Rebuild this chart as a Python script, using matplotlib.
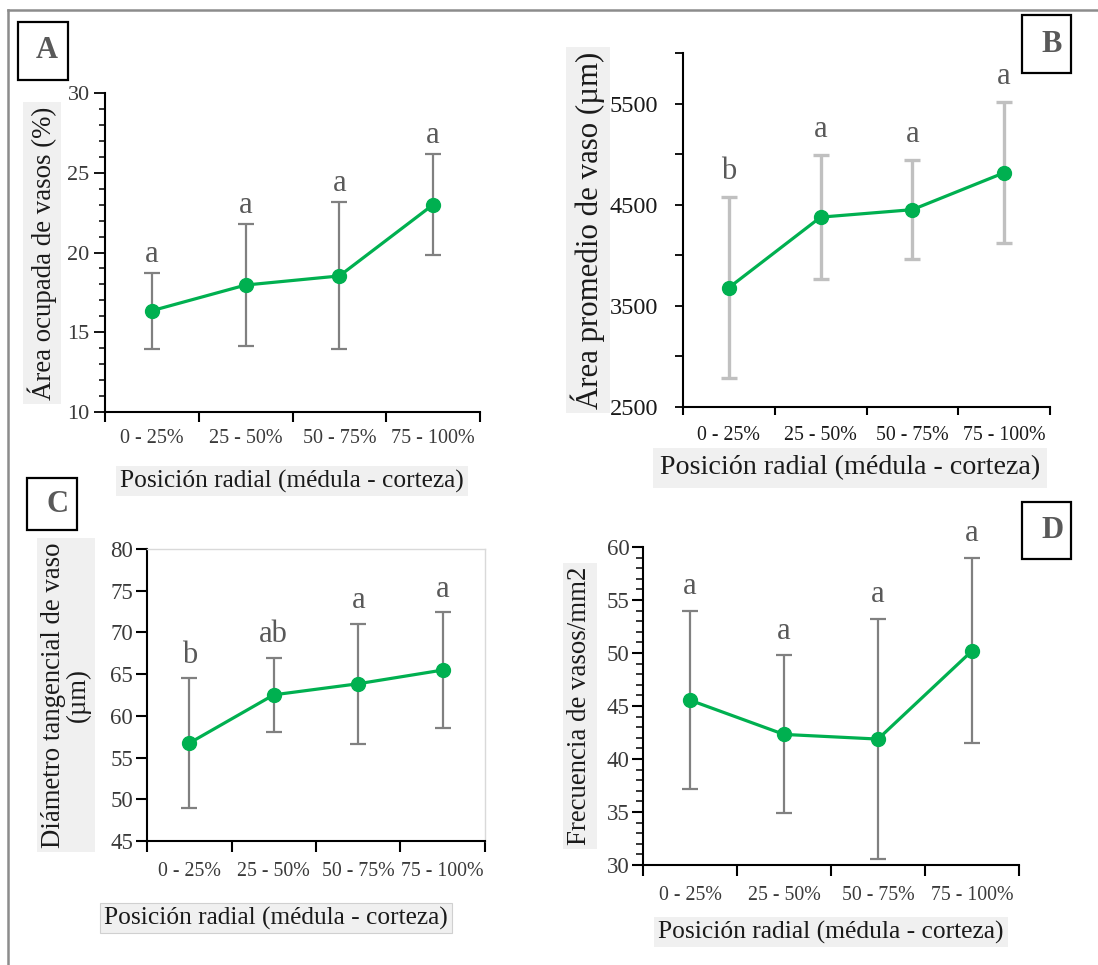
import numpy as np
import matplotlib
matplotlib.use('Agg')
import matplotlib.pyplot as plt
from matplotlib.ticker import MultipleLocator
from matplotlib.lines import Line2D
from matplotlib.patches import Rectangle

plt.rcParams['font.family'] = ['Liberation Serif', 'DejaVu Serif']

categories = ['0 - 25%', '25 - 50%', '50 - 75%', '75 - 100%']

area_mean = [16.35, 17.96, 18.53, 23.0]
area_low = [13.97, 14.14, 13.93, 19.86]
area_high = [18.73, 21.8, 23.15, 26.15]
area_letters = ['a', 'a', 'a', 'a']

vessel_area_mean = [3680, 4377, 4451, 4816]
vessel_area_low = [2787, 3769, 3966, 4121]
vessel_area_high = [4575, 4994, 4945, 5514]
vessel_area_letters = ['b', 'a', 'a', 'a']

diam_mean = [56.73, 62.52, 63.85, 65.49]
diam_low = [49.0, 58.1, 56.6, 58.56]
diam_high = [64.48, 66.97, 71.05, 72.45]
diam_letters = ['b', 'ab', 'a', 'a']

freq_mean = [45.55, 42.32, 41.88, 50.2]
freq_low = [37.13, 34.93, 30.53, 41.47]
freq_high = [53.97, 49.79, 53.2, 58.96]
freq_letters = ['a', 'a', 'a', 'a']

W, H = 1098, 965
GREEN = '#00b050'
fig = plt.figure(figsize=(W / 100, H / 100), dpi=100)


def px_axes(l, t, r, b):
    return fig.add_axes([l / W, 1 - b / H, (r - l) / W, (b - t) / H])


def draw_panel(ax, mean, low, high, letters, ecolor, elw, cap, gap, letter_size):
    x = np.arange(len(categories)) + 0.5
    mean = np.array(mean, float)
    yerr = [mean - np.array(low), np.array(high) - mean]
    ax.errorbar(x, mean, yerr=yerr, fmt='none', ecolor=ecolor, elinewidth=elw,
                capsize=cap, capthick=elw, zorder=2)
    ax.plot(x, mean, color=GREEN, lw=2.3, marker='o', ms=10, zorder=3)
    for xi, hi, lab in zip(x, high, letters):
        ax.annotate(lab, (xi, hi), xytext=(0, gap), textcoords='offset points',
                    ha='center', va='bottom', fontsize=letter_size, color='#595959')
    ax.set_xlim(0, len(categories))
    ax.set_xticks(np.arange(len(categories) + 1))
    ax.set_xticklabels([])
    ax.set_xticks(x, categories, minor=True)
    ax.set_facecolor('none')
    for s in ('left', 'bottom'):
        ax.spines[s].set_linewidth(1.5)
        ax.spines[s].set_color('black')


def fig_label(x, y, s, size, rotation=0, border=False, color='#1a1a1a', pad=0.15):
    fig.text(x / W, 1 - y / H, s, fontsize=size, rotation=rotation, ha='center', va='center',
             color=color, multialignment='center', linespacing=1.0,
             bbox=dict(boxstyle=f'square,pad={pad}', fc='#f0f0f0',
                       ec='#d0d0d0' if border else 'none', lw=0.8))


def letter_box(x0, y0, x1, y1, s, tx):
    fig.add_artist(Rectangle((x0 / W, 1 - y1 / H), (x1 - x0) / W, (y1 - y0) / H,
                             transform=fig.transFigure, fill=False, ec='black', lw=1.6))
    fig.text(tx / W, 1 - ((y0 + y1) / 2) / H, s, fontsize=22, fontweight='bold',
             color='#595959', ha='center', va='center')


# ---------- Panel A ----------
axA = px_axes(105, 93, 480, 412)
draw_panel(axA, area_mean, area_low, area_high, area_letters, '#808080', 1.6, 5.5, 3, 22)
axA.set_ylim(10, 30)
axA.set_yticks([10, 15, 20, 25, 30])
axA.yaxis.set_minor_locator(MultipleLocator(1))
axA.spines['top'].set_visible(False)
axA.spines['right'].set_visible(False)
axA.tick_params(axis='y', which='major', length=8, width=1.3, labelsize=16, pad=3, labelcolor='#3a3a3a')
axA.tick_params(axis='y', which='minor', length=4.5, width=1.1)
axA.tick_params(axis='x', which='major', length=7, width=1.5)
axA.tick_params(axis='x', which='minor', length=0, labelsize=14.5, pad=12, labelcolor='#3a3a3a')

# ---------- Panel B ----------
axB = px_axes(683, 53, 1050, 407)
draw_panel(axB, vessel_area_mean, vessel_area_low, vessel_area_high, vessel_area_letters,
           '#c0c0c0', 2.4, 5.5, 8, 22)
axB.set_ylim(2500, 6000)
b_ticks = np.arange(2500, 6001, 500)
axB.set_yticks(b_ticks, [str(v) if v % 1000 == 500 else '' for v in b_ticks])
axB.spines['top'].set_visible(False)
axB.spines['right'].set_visible(False)
axB.tick_params(axis='y', which='major', length=6, width=1.3, labelsize=17.5, pad=12, labelcolor='#1a1a1a')
axB.tick_params(axis='x', which='major', length=6, width=1.5)
axB.tick_params(axis='x', which='minor', length=0, labelsize=14.3, pad=14, labelcolor='#1a1a1a')

# ---------- Panel C ----------
axC = px_axes(147, 549, 485, 841)
draw_panel(axC, diam_mean, diam_low, diam_high, diam_letters, '#808080', 1.6, 5.5, 6, 22)
axC.set_ylim(45, 80)
axC.set_yticks(np.arange(45, 81, 5))
axC.spines['top'].set_color('#d9d9d9')
axC.spines['right'].set_color('#d9d9d9')
axC.spines['top'].set_linewidth(1)
axC.spines['right'].set_linewidth(1)
axC.tick_params(axis='y', which='major', length=8, width=1.5, labelsize=16.5, pad=2, labelcolor='#3a3a3a')
axC.tick_params(axis='x', which='major', length=8, width=1.5)
axC.tick_params(axis='x', which='minor', length=0, labelsize=14.3, pad=15, labelcolor='#3a3a3a')

# ---------- Panel D ----------
axD = px_axes(643, 547, 1019, 865)
draw_panel(axD, freq_mean, freq_low, freq_high, freq_letters, '#808080', 1.6, 5.5, 7, 22)
axD.set_ylim(30, 60)
axD.set_yticks(np.arange(30, 61, 5))
axD.yaxis.set_minor_locator(MultipleLocator(1))
axD.spines['top'].set_visible(False)
axD.spines['right'].set_visible(False)
axD.tick_params(axis='y', which='major', length=8, width=1.5, labelsize=16.5, pad=1.5, labelcolor='#3a3a3a')
axD.tick_params(axis='y', which='minor', length=5, width=1.1)
axD.tick_params(axis='x', which='major', length=8, width=1.5)
axD.tick_params(axis='x', which='minor', length=0, labelsize=14.3, pad=15, labelcolor='#3a3a3a')

# ---------- axis labels ----------
xl = 'Posición radial (médula - corteza)'
fig_label(42, 253, 'Área ocupada de vasos (%)', 19.4, rotation=90)
fig_label(292, 481, xl, 18.3)
fig_label(588, 230, 'Área promedio de vaso (µm)', 22.2, rotation=90)
fig_label(850, 468, xl, 20.2, pad=0.25)
fig_label(66, 695, 'Diámetro tangencial de vaso\n(µm)', 19.3, rotation=90)
fig_label(276, 918, xl, 18.3, border=True)
fig_label(580, 706, 'Frecuencia de vasos/mm2', 19.4, rotation=90)
fig_label(831, 932, xl, 18.4)

# ---------- panel letters ----------
letter_box(18, 22, 68, 80, 'A', 47)
letter_box(1022, 15, 1071, 73, 'B', 1052)
letter_box(27, 478, 77, 530, 'C', 57)
letter_box(1022, 502, 1071, 559, 'D', 1053)

# ---------- outer border ----------
fig.add_artist(Line2D([8 / W, 1], [1 - 10 / H, 1 - 10 / H], transform=fig.transFigure,
                      color='#8c8c8c', lw=1.8))
fig.add_artist(Line2D([8 / W, 8 / W], [0, 1 - 10 / H], transform=fig.transFigure,
                      color='#8c8c8c', lw=1.8))

fig.savefig('out.png', dpi=100)
